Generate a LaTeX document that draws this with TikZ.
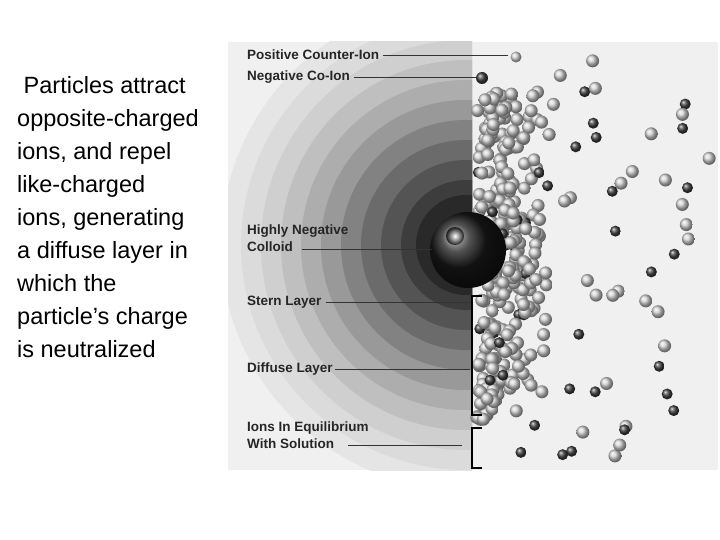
\documentclass[tikz,border=0pt]{standalone}
\usepackage{fontspec}
\setmainfont{Liberation Sans}
\begin{document}
\begin{tikzpicture}[x=1pt,y=-1pt,
  lbl/.style={anchor=west,font=\bfseries\fontsize{13.5}{17}\selectfont,text=black!85,inner sep=0pt,align=left},
  ldr/.style={draw=black!80,line width=0.6pt},
  posion/.style={ball color=gray!35,draw=none},
  negion/.style={ball color=black!75,draw=none},
  brk/.style={draw=black,line width=1.6pt}]
\useasboundingbox (0,0) rectangle (720,540);
\fill[white] (0,0) rectangle (720,540);
\fill[black!6] (228,42) rectangle (718,470);
\begin{scope}
\clip (228,42) rectangle (472,470);
\foreach \r/\g in {245/10,225/14,205/19,185/25,165/32,145/40,125/49,105/58,85/67,65/76,50/84}{
  \fill[black!\g] (466,245) circle (\r);}
\end{scope}
\pgfmathsetseed{7}
\foreach \i in {1,...,280}{
  \pgfmathsetmacro\yy{92+328*rnd}
  \pgfmathsetmacro\dd{abs(\yy-245)/165}
  \pgfmathsetmacro\xx{476+ (1-\dd*\dd)*35*rnd + 75*rnd*rnd}
  \pgfmathsetmacro\t{rnd}
  \ifdim\t pt<0.1pt \shade[negion] (\xx,\yy) circle (5.5);
  \else \shade[posion] (\xx,\yy) circle (6.5);\fi
}
\foreach \i in {1,...,55}{
  \pgfmathsetmacro\xx{490+220*rnd}
  \pgfmathsetmacro\yy{60+400*rnd}
  \pgfmathsetmacro\t{rnd}
  \ifdim\t pt<0.45pt \shade[negion] (\xx,\yy) circle (5.5);
  \else \shade[posion] (\xx,\yy) circle (6.5);\fi
}
\shade[posion] (516,57) circle (5.5);
\shade[negion] (482,78) circle (6);
\shade[ball color=black!90] (468,250) circle (38);
\shade[inner color=white,outer color=black!90] (455,236) circle (9);
\draw[brk] (482,296) -- (472,296) -- (472,415) -- (482,415);
\draw[brk] (482,428) -- (472,428) -- (472,468) -- (482,468);
\node[lbl] (l1) at (247,55) {Positive Counter-Ion};
\draw[ldr] (l1.east) ++(4,0) -- (508,55);
\node[lbl] (l2) at (247,77) {Negative Co-Ion};
\draw[ldr] (l2.east) ++(4,0) -- (476,77);
\node[lbl] (l3) at (247,238) {Highly Negative\\Colloid};
\draw[ldr] (302,249) -- (432,249);
\node[lbl] (l4) at (247,302) {Stern Layer};
\draw[ldr] (l4.east) ++(4,0) -- (470,302);
\node[lbl] (l5) at (247,369) {Diffuse Layer};
\draw[ldr] (l5.east) ++(2,0) -- (470,369);
\node[lbl] (l6) at (247,435) {Ions In Equilibrium\\With Solution};
\draw[ldr] (348,445) -- (462,445);
\node[anchor=north west,align=left,inner sep=0pt,font=\fontsize{23.5}{33}\selectfont] (txt) at (17,76)
 {\ Particles attract\\opposite-charged\\ions, and repel\\like-charged\\ions, generating\\a diffuse layer in\\which the\\particle’s charge\\is neutralized};
\end{tikzpicture}
\end{document}
